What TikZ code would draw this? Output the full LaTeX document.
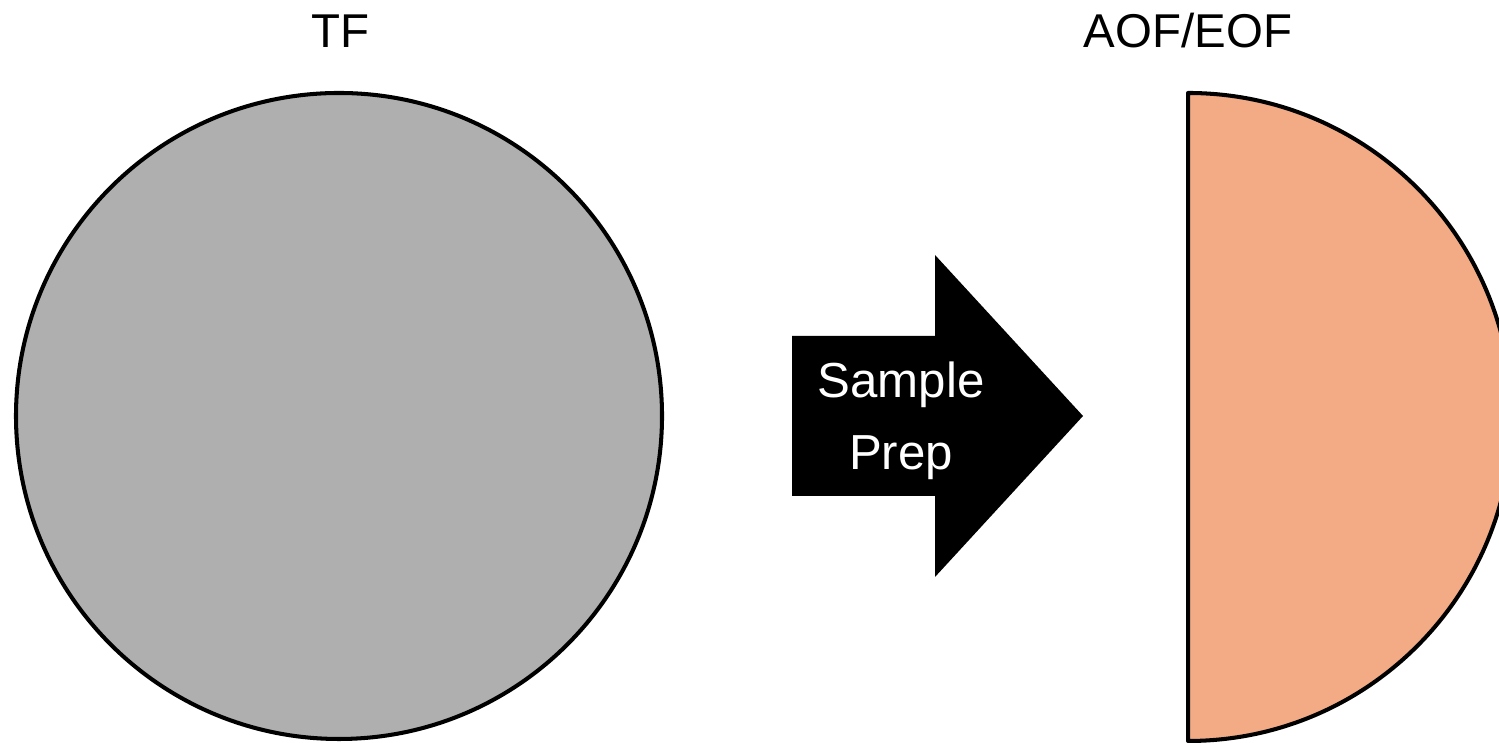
\documentclass[tikz,border=0pt]{standalone}
\usepackage{fontspec}
\setmainfont{Liberation Sans}
\definecolor{tfgray}{HTML}{AFAFAF}
\definecolor{aoforange}{HTML}{F2AB85}
\tikzset{
  title/.style={anchor=base,font=\fontsize{13.5}{16}\selectfont},
  preptext/.style={anchor=base,text=white,font=\fontsize{14}{17}\selectfont},
  disc/.style={draw=black,line width=1.15pt}
}
\begin{document}
\begin{tikzpicture}
\useasboundingbox (0,0) rectangle (14.99,7.43);
\clip (0,0) rectangle (14.99,7.43);
% total fluorine
\draw[disc,fill=tfgray] (3.39,3.27) circle (3.23);
\node[title] (tf) at (3.40,6.95) {TF};
% arrow
\fill[black] (7.92,4.07) -- (9.35,4.07) -- (9.35,4.88) -- (10.83,3.27)
  -- (9.35,1.66) -- (9.35,2.47) -- (7.92,2.47) -- cycle;
\node[preptext] (sample) at (9.01,3.45) {Sample};
\node[preptext] (prep) at (9.01,2.73) {Prep};
% adsorbable / extractable fraction
\draw[disc,fill=aoforange,line join=round] (11.88,6.50) arc (90:-90:3.24) -- cycle;
\node[title] (aof) at (11.88,6.95) {AOF/EOF};
\end{tikzpicture}
\end{document}
